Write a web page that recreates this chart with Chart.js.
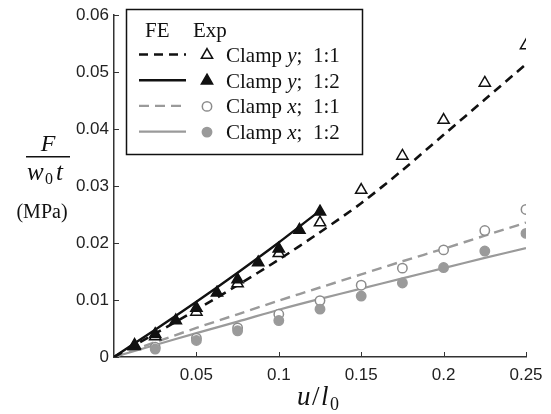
<!DOCTYPE html>
<html>
<head>
<meta charset="utf-8">
<script src="https://cdn.jsdelivr.net/npm/chart.js@4"></script>
<style>
  html, body { margin: 0; padding: 0; background: #fff; }
  #wrap { width: 551px; height: 414px; }
</style>
</head>
<body>
<div id="wrap"><canvas id="myChart" width="551" height="414"></canvas></div>
<script>
'use strict';

// DANE

// FE (lines)
const feX11 = [0, 0.025, 0.05, 0.075, 0.1, 0.125, 0.15, 0.175, 0.2, 0.225, 0.25];
const feClampY11 = [0, 0.0041, 0.0083, 0.0126, 0.0171, 0.0219, 0.027, 0.0328, 0.039, 0.0452, 0.0514];
const feX12 = [0, 0.025, 0.05, 0.075, 0.1, 0.125];
const feClampY12 = [0, 0.0048, 0.0097, 0.0148, 0.0201, 0.0257];
const feClampX11 = [0, 0.0026, 0.0051, 0.0075, 0.0099, 0.0122, 0.0145, 0.0168, 0.019, 0.0213, 0.0236];
const feClampX12 = [0, 0.0021, 0.0042, 0.0062, 0.0083, 0.0102, 0.012, 0.0138, 0.0156, 0.0174, 0.0191];

// Exp (markers)
const expYX11 = [0.0125, 0.025, 0.05, 0.075, 0.1, 0.125, 0.15, 0.175, 0.2, 0.225, 0.25];
const expClampY11 = [0.0019, 0.0036, 0.0079, 0.0129, 0.0182, 0.0236, 0.0293, 0.0353, 0.0416, 0.0481, 0.0547];
const expYX12 = [0.0125, 0.025, 0.0375, 0.05, 0.0625, 0.075, 0.0875, 0.1, 0.1125, 0.125];
const expClampY12 = [0.0021, 0.004, 0.0064, 0.0086, 0.0113, 0.0136, 0.0166, 0.019, 0.0223, 0.0255];
const expXX = [0.025, 0.05, 0.075, 0.1, 0.125, 0.15, 0.175, 0.2, 0.225, 0.25];
const expClampX11 = [0.0017, 0.0033, 0.0051, 0.0075, 0.0099, 0.0126, 0.0156, 0.0188, 0.0222, 0.0259];
const expClampX12 = [0.0014, 0.0029, 0.0046, 0.0064, 0.0084, 0.0107, 0.013, 0.0157, 0.0186, 0.0217];

// ticks
const xTicks = [0.05, 0.1, 0.15, 0.2, 0.25];
const xTickLabels = ['0.05', '0.1', '0.15', '0.2', '0.25'];
const yTicks = [0, 0.01, 0.02, 0.03, 0.04, 0.05, 0.06];
const yTickLabels = ['0', '0.01', '0.02', '0.03', '0.04', '0.05', '0.06'];

// legend rows: [line dataset, marker dataset, clamp letter, ratio]
const legendRows = [
  ['FE y 1:1', 'Exp y 1:1', 'y', '1:1'],
  ['FE y 1:2', 'Exp y 1:2', 'y', '1:2'],
  ['FE x 1:1', 'Exp x 1:1', 'x', '1:1'],
  ['FE x 1:2', 'Exp x 1:2', 'x', '1:2']
];

const GRAY = '#9a9a9a';
const SERIF = '"Liberation Serif", "Times New Roman", serif';
const SANS = '"Liberation Sans", Arial, sans-serif';

function pts(xs, ys) {
  return xs.map(function(x, i) { return {x: x, y: ys[i]}; });
}

function lineSet(label, xs, ys, color, width, dash) {
  return {
    label: label, data: pts(xs, ys), showLine: true,
    borderColor: color, borderWidth: width, borderDash: dash,
    pointRadius: 0, tension: 0.3, fill: false, order: 2
  };
}

function markSet(label, xs, ys, style, fill, stroke, r) {
  return {
    label: label, data: pts(xs, ys), showLine: false,
    pointStyle: style, pointRadius: r, pointHoverRadius: r,
    pointBackgroundColor: fill, pointBorderColor: stroke, pointBorderWidth: 1.5,
    order: 1
  };
}

// rysowanie markera w legendzie
function drawMarker(ctx, ds, x, y) {
  const r = ds.pointRadius;
  ctx.save();
  ctx.fillStyle = ds.pointBackgroundColor;
  ctx.strokeStyle = ds.pointBorderColor;
  ctx.lineWidth = ds.pointBorderWidth;
  ctx.beginPath();
  if (ds.pointStyle === 'triangle') {
    const s = r * Math.sqrt(3);
    const h = s * Math.sqrt(3) / 2;
    ctx.moveTo(x, y - 2 * h / 3);
    ctx.lineTo(x + s / 2, y + h / 3);
    ctx.lineTo(x - s / 2, y + h / 3);
    ctx.closePath();
  } else {
    ctx.arc(x, y, r, 0, Math.PI * 2);
  }
  ctx.fill();
  ctx.stroke();
  ctx.restore();
}

const extras = {
  id: 'extras',
  afterDraw: function(chart) {
    const ctx = chart.ctx;
    const xs = chart.scales.x, ys = chart.scales.y;
    const area = chart.chartArea;

    // ticks do srodka
    ctx.save();
    ctx.strokeStyle = '#333';
    ctx.lineWidth = 1;
    xTicks.forEach(function(v) {
      const p = Math.round(xs.getPixelForValue(v)) + 0.5;
      ctx.beginPath(); ctx.moveTo(p, area.bottom); ctx.lineTo(p, area.bottom - 5); ctx.stroke();
    });
    yTicks.forEach(function(v) {
      const p = Math.round(ys.getPixelForValue(v)) + 0.5;
      ctx.beginPath(); ctx.moveTo(area.left, p); ctx.lineTo(area.left + 5, p); ctx.stroke();
    });
    ctx.restore();

    // tytul osi y
    ctx.save();
    ctx.fillStyle = '#111';
    ctx.textAlign = 'center';
    ctx.font = 'italic 24px ' + SERIF;
    ctx.fillText('F', 48, 151);
    ctx.fillRect(26, 156, 44, 1.5);
    ctx.textAlign = 'left';
    ctx.font = 'italic 25px ' + SERIF;
    ctx.fillText('w', 27, 180);
    ctx.font = '16px ' + SERIF;
    ctx.fillText('0', 45, 184);
    ctx.font = 'italic 25px ' + SERIF;
    ctx.fillText('t', 56, 180);
    ctx.textAlign = 'center';
    ctx.font = '20px ' + SERIF;
    ctx.fillText('(MPa)', 42, 218);

    // tytul osi x
    ctx.textAlign = 'left';
    ctx.font = 'italic 27px ' + SERIF;
    ctx.fillText('u', 297, 405);
    ctx.font = '27px ' + SERIF;
    ctx.fillText('/', 312, 405);
    ctx.font = 'italic 27px ' + SERIF;
    ctx.fillText('l', 321, 405);
    ctx.font = '18px ' + SERIF;
    ctx.fillText('0', 330, 410);
    ctx.restore();

    // legenda
    ctx.save();
    ctx.fillStyle = '#fff';
    ctx.fillRect(126.5, 9.5, 236, 145);
    ctx.strokeStyle = '#111';
    ctx.lineWidth = 1.5;
    ctx.strokeRect(126.5, 9.5, 236, 145);
    ctx.fillStyle = '#111';
    ctx.font = '21px ' + SERIF;
    ctx.textAlign = 'left';
    ctx.fillText('FE', 145, 37);
    ctx.fillText('Exp', 193, 37);
    const byLabel = {};
    chart.data.datasets.forEach(function(d) { byLabel[d.label] = d; });
    legendRows.forEach(function(row, i) {
      const cy = 54.5 + i * 25.7;
      const ld = byLabel[row[0]], md = byLabel[row[1]];
      ctx.save();
      ctx.strokeStyle = ld.borderColor;
      ctx.lineWidth = ld.borderWidth;
      ctx.setLineDash(ld.borderDash || []);
      ctx.beginPath(); ctx.moveTo(139, cy); ctx.lineTo(186, cy); ctx.stroke();
      ctx.restore();
      drawMarker(ctx, md, 207, cy + 0.5);
      let tx = 226;
      const by = cy + 7.5;
      ctx.font = '21px ' + SERIF;
      ctx.fillText('Clamp ', tx, by);
      tx += ctx.measureText('Clamp ').width;
      ctx.font = 'italic 21px ' + SERIF;
      ctx.fillText(row[2], tx, by);
      tx += ctx.measureText(row[2]).width;
      ctx.font = '21px ' + SERIF;
      ctx.fillText(';  ' + row[3], tx, by);
    });
    ctx.restore();
  }
};

const ctx = document.getElementById('myChart').getContext('2d');

// pelne markery na wierzchu (nizszy indeks rysowany ostatni)
const chart = new Chart(ctx, {
  type: 'scatter',
  data: {
    datasets: [
      markSet('Exp y 1:2', expYX12, expClampY12, 'triangle', '#111', '#111', 6.5),
      markSet('Exp y 1:1', expYX11, expClampY11, 'triangle', '#fff', '#111', 6.5),
      markSet('Exp x 1:2', expXX, expClampX12, 'circle', GRAY, GRAY, 4.7),
      markSet('Exp x 1:1', expXX, expClampX11, 'circle', '#fff', '#8c8c8c', 4.7),
      lineSet('FE y 1:1', feX11, feClampY11, '#111', 2.6, [9, 6]),
      lineSet('FE y 1:2', feX12, feClampY12, '#111', 2.4, []),
      lineSet('FE x 1:1', feX11, feClampX11, GRAY, 2.4, [10, 6]),
      lineSet('FE x 1:2', feX11, feClampX12, GRAY, 2.2, [])
    ]
  },
  options: {
    responsive: false,
    animation: false,
    layout: { padding: { left: 0, right: 25, top: 14, bottom: 0 } },
    plugins: { legend: { display: false }, tooltip: { enabled: false } },
    scales: {
      x: {
        type: 'linear', min: 0, max: 0.25,
        grid: { display: false, drawTicks: false },
        border: { display: true, color: '#333', width: 1.5 },
        afterBuildTicks: function(s) { s.ticks = xTicks.map(function(v) { return {value: v}; }); },
        afterFit: function(s) { s.height = 57; },
        ticks: {
          color: '#222', padding: 8,
          font: { family: SANS, size: 17 },
          callback: function(v) { return xTickLabels[xTicks.indexOf(v)]; }
        }
      },
      y: {
        type: 'linear', min: 0, max: 0.06,
        grid: { display: false, drawTicks: false },
        border: { display: true, color: '#333', width: 1.5 },
        afterBuildTicks: function(s) { s.ticks = yTicks.map(function(v) { return {value: v}; }); },
        afterFit: function(s) { s.width = 114; },
        ticks: {
          color: '#222', padding: 5,
          font: { family: SANS, size: 17 },
          callback: function(v) { return yTickLabels[yTicks.indexOf(v)]; }
        }
      }
    }
  },
  plugins: [extras]
});
</script>
</body>
</html>
